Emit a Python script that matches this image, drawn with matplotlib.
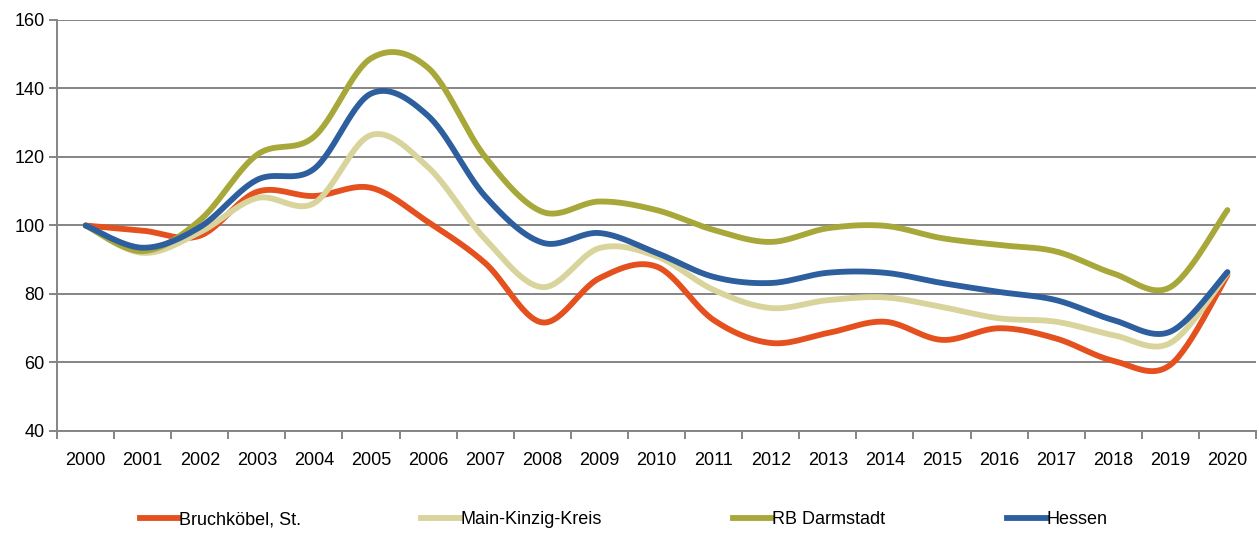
import matplotlib.pyplot as plt
from matplotlib.lines import Line2D
import numpy as np

plt.rcParams['font.family'] = ['Liberation Sans', 'DejaVu Sans']

years = [str(y) for y in range(2000, 2021)]

bruchkoebel = [100, 98.5, 97, 109.8, 108.6, 111, 101, 89, 71.7, 84.6, 88,
               72.4, 65.7, 68.6, 71.9, 66.6, 70, 67, 60.5, 59.3, 85.5]
main_kinzig = [100, 92, 98, 108, 106.5, 126.4, 117, 96, 82, 93.4, 91,
               81.2, 75.9, 78.2, 79, 76.2, 72.9, 71.9, 68, 65.7, 86]
rb_darmstadt = [100, 92.5, 101.5, 120.6, 125.9, 148.8, 146, 120, 104, 107, 104.5,
                98.7, 95.2, 99.2, 99.9, 96.3, 94.3, 92.4, 86, 82, 104.5]
hessen = [100, 93.5, 99.5, 113.3, 116.5, 138.5, 132, 108.5, 95, 97.8, 92,
          85, 83.2, 86.2, 86.2, 83.2, 80.6, 78.2, 72.4, 69, 86.4]

series_names = ['Bruchköbel, St.', 'Main-Kinzig-Kreis', 'RB Darmstadt', 'Hessen']
series_values = [bruchkoebel, main_kinzig, rb_darmstadt, hessen]
colors = ['#E4501E', '#D8D49C', '#A8A83A', '#2D5E9E']


def smooth(x, y, n=30):
    # Bezier smoothing like spreadsheet "smoothed line"
    x = np.asarray(x, float)
    y = np.asarray(y, float)
    pts = np.column_stack([x, y])
    pad = np.vstack([pts[0], pts, pts[-1]])
    out = []
    t = np.linspace(0, 1, n)[:, None]
    for i in range(len(pts) - 1):
        p0, p1, p2, p3 = pad[i], pad[i + 1], pad[i + 2], pad[i + 3]
        c1 = p1 + (p2 - p0) / 6
        c2 = p2 - (p3 - p1) / 6
        seg = ((1 - t) ** 3) * p1 + 3 * ((1 - t) ** 2) * t * c1 + 3 * (1 - t) * t ** 2 * c2 + t ** 3 * p2
        out.append(seg if i == 0 else seg[1:])
    out = np.vstack(out)
    return out[:, 0], out[:, 1]


fig = plt.figure(figsize=(12.59, 5.33), dpi=100)
ax = fig.add_axes([0.0453, 0.1914, 0.9523, 0.7711])

xpos = np.arange(len(years))
for name, vals, c in zip(series_names, series_values, colors):
    sx, sy = smooth(xpos, vals)
    ax.plot(sx, sy, color=c, lw=4.2, solid_capstyle='round', zorder=3)

ax.set_ylim(40, 160)
ax.set_yticks(range(40, 161, 20))
ax.set_xlim(-0.5, len(years) - 0.5)
ax.set_xticks(xpos)
ax.set_xticklabels(years)
ax.set_xticks(np.arange(-0.5, len(years), 1), minor=True)

ax.grid(axis='y', color='#858585', lw=1.4, zorder=1)
for s in ['top', 'right']:
    ax.spines[s].set_visible(False)
for s in ['left', 'bottom']:
    ax.spines[s].set_color('#858585')
    ax.spines[s].set_linewidth(1.4)

ax.tick_params(axis='x', which='major', length=0, pad=15, labelsize=13)
ax.tick_params(axis='x', which='minor', length=6, color='#858585', width=1.4, direction='out')
ax.tick_params(axis='y', length=6, color='#858585', width=1.4, labelsize=13, pad=3)

legend_x = [0.111, 0.334, 0.582, 0.800]
for name, c, lx in zip(series_names, colors, legend_x):
    h = Line2D([], [], color=c, lw=4.2)
    fig.legend(handles=[h], labels=[name], loc='center left', bbox_to_anchor=(lx, 0.025),
               frameon=False, fontsize=13, handlelength=2.2, handletextpad=0.0,
               borderaxespad=0, borderpad=0)

fig.savefig('out.png', dpi=100)
